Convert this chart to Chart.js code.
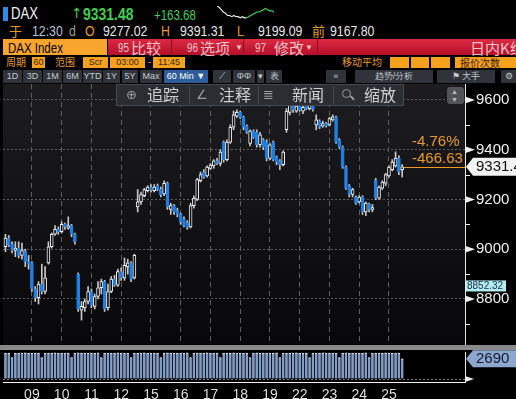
<!DOCTYPE html>
<html><head><meta charset="utf-8">
<script src="https://cdn.jsdelivr.net/npm/chart.js@4"></script>
<style>
html,body{margin:0;padding:0;background:#000;width:516px;height:399px;overflow:hidden;}
body{position:relative;font-family:"Liberation Sans",Arial,sans-serif;}
.a{position:absolute;white-space:nowrap;line-height:1;}
.n{transform:scaleX(0.82);transform-origin:0 0;}
.cjk{font-family:"Noto Sans CJK SC","Liberation Sans",sans-serif;}
.or{color:#e99b2b;}
.wt{color:#e6e6e6;}
.box{position:absolute;background:#f5a11d;color:#3a2200;font-size:9px;line-height:11px;height:11px;text-align:center;}
.btn{position:absolute;top:70px;height:13px;background:#30343a;color:#c3c7ce;font-size:9px;line-height:13px;text-align:center;font-family:"Liberation Sans",Arial,sans-serif;}
canvas{position:absolute;left:0;}
</style></head><body>

<!-- Row 1 -->
<div class="a" style="left:3px;top:7px;width:5px;height:14px;background:#2b8be6"></div>
<div class="a n" style="left:11px;top:6px;font-size:16px;color:#f2f2f2">DAX</div>
<div class="a" style="left:71px;top:6px;font-size:14px;color:#3cc84c;font-family:'DejaVu Sans'">↑</div>
<div class="a n" style="left:83px;top:6px;font-size:17px;font-weight:bold;color:#3fd24f">9331.48</div>
<div class="a n" style="left:154px;top:8px;font-size:14px;color:#3fd24f">+163.68</div>
<canvas id="spark" width="57" height="14" style="left:217px;top:5px;width:57px;height:14px"></canvas>

<!-- Row 2 -->
<div class="a cjk or" style="left:9px;top:24px;font-size:13px">于</div>
<div class="a n" style="left:32px;top:23px;font-size:15px;color:#b4c2d9">12:30</div>
<div class="a n" style="left:69px;top:23px;font-size:15px;color:#9a9a9a">d</div>
<div class="a n or" style="left:85px;top:23px;font-size:15px">O</div>
<div class="a n wt" style="left:103px;top:23px;font-size:15px">9277.02</div>
<div class="a n or" style="left:161px;top:23px;font-size:15px">H</div>
<div class="a n wt" style="left:180px;top:23px;font-size:15px">9391.31</div>
<div class="a n or" style="left:237px;top:23px;font-size:15px">L</div>
<div class="a n wt" style="left:258px;top:23px;font-size:15px">9199.09</div>
<div class="a cjk or" style="left:312px;top:24px;font-size:13px">前</div>
<div class="a n wt" style="left:330px;top:23px;font-size:15px">9167.80</div>

<!-- Row 3 -->
<div class="a" style="left:3px;top:39px;width:104px;height:16px;background:#f7a52c"></div>
<div class="a n" style="left:8px;top:41px;font-size:14px;color:#000">DAX Index</div>
<div class="a" style="left:108px;top:39px;width:408px;height:16px;background:linear-gradient(#dc2a42,#b40f29)"></div>
<div class="a" style="left:171px;top:39px;width:1px;height:16px;background:#8e0c1f"></div>
<div class="a" style="left:243px;top:39px;width:1px;height:16px;background:#8e0c1f"></div>
<div class="a" style="left:317px;top:39px;width:1px;height:16px;background:#8e0c1f"></div>
<div class="a n" style="left:118px;top:42px;font-size:12px;color:#f5c3ca">95</div>
<div class="a cjk" style="left:131px;top:40px;font-size:15px;color:#f5c3ca">比较</div>
<div class="a n" style="left:187px;top:42px;font-size:12px;color:#f5c3ca">96</div>
<div class="a cjk" style="left:200px;top:40px;font-size:15px;color:#f5c3ca">选项</div>
<div class="a" style="left:235px;top:44px;font-size:8px;color:#f5c3ca">▼</div>
<div class="a n" style="left:255px;top:42px;font-size:12px;color:#f5c3ca">97</div>
<div class="a cjk" style="left:274px;top:40px;font-size:15px;color:#f5c3ca">修改</div>
<div class="a" style="left:305px;top:44px;font-size:8px;color:#f5c3ca">▼</div>
<div class="a cjk" style="left:470px;top:40px;font-size:15px;color:#f5c3ca">日内K线图</div>

<!-- Row 4 -->
<div class="a cjk or" style="left:6px;top:57px;font-size:10px">周期</div>
<div class="box" style="left:32px;top:57px;width:13px">60</div>
<div class="a cjk or" style="left:55px;top:57px;font-size:10px">范围</div>
<div class="box" style="left:83px;top:57px;width:25px">Scr</div>
<div class="box" style="left:110px;top:57px;width:35px">03:00</div>
<div class="a or" style="left:148px;top:57px;font-size:10px">-</div>
<div class="box" style="left:153px;top:57px;width:32px">11:45</div>
<div class="a cjk or" style="left:342px;top:57px;font-size:10px">移动平均</div>
<div class="box" style="left:390px;top:57px;width:19px"></div>
<div class="box" style="left:411px;top:57px;width:18px"></div>
<div class="box" style="left:431px;top:57px;width:19px"></div>
<div class="box cjk" style="left:455px;top:57px;width:61px;text-align:left;padding-left:5px;box-sizing:border-box;font-size:10px">报价次数</div>

<!-- Row 5 buttons -->
<div id="btns"></div>

<!-- main chart -->
<canvas id="main" width="516" height="262" style="top:84px;width:516px;height:262px"></canvas>

<!-- toolbar overlay -->
<div class="a" style="left:116px;top:84px;width:288px;height:22px;background:#2a2d31;border:1px solid #45484e;box-sizing:border-box"></div>
<div class="a" style="left:189px;top:86px;width:1px;height:18px;background:#44474c"></div>
<div class="a" style="left:258px;top:86px;width:1px;height:18px;background:#44474c"></div>
<div class="a" style="left:333px;top:86px;width:1px;height:18px;background:#44474c"></div>
<div class="a" style="left:126px;top:88px;font-size:13px;color:#9a9da2;font-family:'DejaVu Sans'">⊕</div>
<div class="a cjk" style="left:147px;top:86px;font-size:16px;color:#d0d0d0">追踪</div>
<div class="a" style="left:196px;top:88px;font-size:13px;color:#9a9da2;font-family:'DejaVu Sans'">∠</div>
<div class="a cjk" style="left:219px;top:86px;font-size:16px;color:#d0d0d0">注释</div>
<div class="a" style="left:263px;top:88px;font-size:13px;color:#9a9da2;font-family:'DejaVu Sans'">≣</div>
<div class="a cjk" style="left:292px;top:86px;font-size:16px;color:#d0d0d0">新闻</div>
<div class="a" style="left:342px;top:89px;width:7px;height:7px;border:1.5px solid #9a9da2;border-radius:50%"></div>
<div class="a" style="left:350px;top:97px;width:5px;height:1.5px;background:#9a9da2;transform:rotate(45deg)"></div>
<div class="a cjk" style="left:364px;top:86px;font-size:16px;color:#d0d0d0">缩放</div>
<div class="a" style="left:447px;top:87px;width:17px;height:17px;background:#505358;border-radius:3px"></div>
<div class="a" style="left:451px;top:88px;font-size:7px;color:#b8b8b8">▲</div>
<div class="a" style="left:451px;top:96px;font-size:7px;color:#b8b8b8">▼</div>

<!-- separator -->
<div class="a" style="left:0;top:345px;width:516px;height:5px;background:#8a8a8a;z-index:3"></div>

<!-- volume chart -->
<canvas id="vol" width="516" height="60" style="top:350px;width:516px;height:60px"></canvas>

<script>
// ---------------- data ----------------
const dayLabels = ['09','10','11','12','15','16','17','18','19','22','23','24','25'];

const opens = [
  9010,9045,9020,8995,
  9005,8975,8990,8950,8945,8840,8805,8860,8830,
  8945,9010,9060,9080,9070,9100,9085,9095,9060,
  8900,8755,8765,8790,8830,8770,8810,8845,8870,
  8765,8830,8880,8855,8910,8885,8930,8945,8885,
  9170,9190,9215,9235,9250,9235,9255,9242,9222,
  9265,9160,9175,9155,9140,9120,9105,9090,9175,
  9200,9275,9310,9295,9325,9335,9355,9345,9430,
  9360,9430,9490,9535,9550,9530,9495,9425,9475,
  9470,9420,9440,9430,9365,9430,9370,9355,9340,
  9480,9550,9580,9555,9575,9555,9575,9565,9575,
  9500,9515,9495,9505,9500,9520,9530,9440,9410,
  9330,9255,9220,9210,9190,9210,9150,9180,9160,
  9277.02,9205,9245,9265,9295,9320,9335,9365,9320
];
const highs = [
  9060,9055,9030,9030,
  9030,9025,9000,8975,8950,8850,8870,8940,8930,
  9030,9065,9095,9090,9110,9105,9130,9100,9065,
  8905,8790,8800,8850,8840,8820,8870,8880,8875,
  8860,8890,8895,8920,8925,8965,8960,8950,8980,
  9240,9230,9245,9255,9260,9260,9262,9250,9275,
  9270,9185,9180,9165,9145,9130,9115,9185,9215,
  9285,9310,9320,9335,9345,9360,9365,9400,9435,
  9440,9500,9555,9560,9555,9535,9500,9480,9480,
  9480,9470,9445,9440,9425,9435,9375,9360,9395,
  9565,9600,9590,9585,9590,9575,9580,9590,9580,
  9540,9520,9515,9510,9530,9540,9535,9445,9415,
  9335,9260,9245,9215,9215,9215,9190,9185,9180,
  9285,9255,9275,9305,9335,9360,9391.31,9375,9340
];
const lows = [
  8990,9010,8985,8970,
  8965,8960,8930,8920,8830,8790,8780,8820,8820,
  8940,9005,9055,9060,9065,9080,9080,9050,9020,
  8750,8715,8750,8780,8765,8760,8800,8820,8750,
  8755,8825,8850,8850,8875,8875,8900,8870,8880,
  9150,9180,9210,9230,9230,9230,9235,9210,9215,
  9160,9140,9140,9130,9100,9090,9080,9085,9165,
  9195,9270,9285,9290,9320,9325,9340,9335,9350,
  9355,9425,9480,9530,9525,9480,9465,9415,9445,
  9410,9410,9400,9355,9360,9355,9340,9320,9335,
  9470,9540,9550,9550,9555,9545,9560,9560,9555,
  9480,9485,9490,9490,9495,9515,9425,9405,9325,
  9240,9210,9210,9180,9185,9140,9135,9150,9150,
  9199.09,9200,9240,9255,9290,9315,9330,9300,9290
];
const closes = [
  9045,9015,8995,9005,
  8975,8995,8950,8940,8840,8805,8860,8830,8885,
  9010,9060,9080,9070,9100,9090,9095,9060,9030,
  8760,8770,8790,8830,8775,8810,8845,8870,8760,
  8830,8880,8855,8910,8885,8935,8945,8880,8975,
  9190,9220,9240,9250,9238,9250,9240,9218,9265,
  9170,9175,9150,9140,9110,9095,9088,9175,9205,
  9280,9300,9290,9330,9338,9355,9345,9390,9360,
  9430,9490,9540,9550,9530,9490,9470,9475,9450,
  9420,9460,9410,9365,9420,9360,9350,9338,9390,
  9555,9580,9560,9575,9560,9570,9565,9578,9562,
  9520,9490,9505,9495,9525,9532,9430,9410,9330,
  9245,9220,9240,9185,9210,9150,9185,9160,9167.80,
  9205,9250,9270,9300,9330,9350,9365,9310,9331.48
];
const volumes = [
  3460,3470,2860,3450,
  3470,3460,3480,3450,3470,3460,3470,2850,3460,
  3470,3450,3480,3460,3470,3450,3470,2870,3460,
  3480,3460,3470,3450,3470,3460,3480,2850,3470,
  3460,3470,3450,3480,3460,3470,3450,2860,3470,
  3470,3460,3480,3450,3470,3460,3470,2850,3460,
  3480,3460,3470,3450,3470,3460,3480,2870,3470,
  3460,3470,3450,3480,3460,3470,3450,2860,3470,
  3470,3460,3480,3450,3470,3460,3470,2850,3460,
  3480,3460,3470,3450,3470,3460,3480,2860,3470,
  3460,3470,3450,3480,3460,3470,3450,2870,3470,
  3470,3460,3480,3450,3470,3460,3470,2850,3460,
  3480,3460,3470,3450,3470,3460,3480,2860,3470,
  3460,3470,3450,3480,3460,3470,3450,3460,2690
];
const yTickValues = [8700,8800,8900,9000,9100,9200,9300,9400,9500,9600];
const majorTicks = [8800,9000,9200,9400,9600];
const lastPrice = 9331.48;
const markPrice = 8852.32;
const changePct = '-4.76%';
const changeAbs = '-466.63';
const lastVolume = 2690;
const sparkWhite = [9400,9375,9325,9275,9250,9200,9200,9175,9200,9175,9175,9150,9175,9150,9150];
const sparkGreen = [9150,9175,9200,9225,9250,9275,9275,9300,9325,9350,9325,9300,9300,9275];
const buttons = [
  [3,19,'1D'],[23,19,'3D'],[43,19,'1M'],[63,19,'6M'],[83,19,'YTD'],[103,17,'1Y'],[122,16,'5Y'],[140,22,'Max'],
  [213,18,'⟋'],[233,22,'ΦΦ'],[257,7,'▾'],[266,16,'表'],[326,20,'«'],[355,78,'趋势/分析'],[437,58,'⚑ 大手'],[501,15,'⚙']
];
const firstDayBars = 4, barsPerDay = 9;

// ---------------- buttons ----------------
const bw = document.getElementById('btns');
buttons.forEach(([l,w,t]) => {
  const d = document.createElement('div');
  d.className = 'btn' + (/[\u4e00-\u9fff]/.test(t) ? ' cjk' : '');
  d.style.left = l + 'px'; d.style.width = w + 'px'; d.textContent = t;
  bw.appendChild(d);
});
const blue = document.createElement('div');
blue.className = 'btn'; blue.style.left = '164px'; blue.style.width = '44px';
blue.style.background = '#2d5d9c'; blue.style.color = '#fff'; blue.textContent = '60 Min ▼';
bw.appendChild(blue);

// ---------------- derived ----------------
const N = closes.length;
const isUp = i => closes[i] >= opens[i];
const bodies = opens.map((o,i) => ({x:i, y:[Math.min(o,closes[i]), Math.max(o,closes[i])]}));
const wicks = lows.map((l,i) => ({x:i, y:[l, highs[i]]}));
const volData = volumes.map((v,i) => ({x:i, y:v}));
const boundaries = dayLabels.map((_,k) => firstDayBars - 0.5 + k*barsPerDay);
const centers = dayLabels.map((_,k) => firstDayBars + 4 + k*barsPerDay);
const XMIN = -0.74, XMAX = 139.0;
const BLUE = '#1f7fe2';
const noPad = ax => { ax.paddingTop = 0; ax.paddingBottom = 0; };

// ---------------- main chart ----------------
const mainDeco = {
  id:'mainDeco',
  beforeDraw(chart){
    const {ctx, chartArea:a} = chart;
    const g = ctx.createLinearGradient(0,a.top,0,a.bottom);
    g.addColorStop(0,'#1d1d21'); g.addColorStop(1,'#08080a');
    ctx.save(); ctx.fillStyle=g; ctx.fillRect(a.left,a.top,a.right-a.left,a.bottom-a.top); ctx.restore();
  },
  afterDraw(chart){
    const {ctx, chartArea:a, scales:{x,y}} = chart;
    ctx.save();
    yTickValues.forEach(v=>{
      const py = y.getPixelForValue(v);
      ctx.fillStyle = '#f0f0f0'; ctx.strokeStyle = '#f0f0f0'; ctx.lineWidth = 1;
      if (majorTicks.includes(v)) {
        ctx.beginPath(); ctx.moveTo(a.right, py-3.5); ctx.lineTo(a.right, py+3.5); ctx.lineTo(a.right+10, py); ctx.closePath(); ctx.fill();
      } else {
        ctx.beginPath(); ctx.moveTo(a.right, Math.round(py)+0.5); ctx.lineTo(a.right+5, Math.round(py)+0.5); ctx.stroke();
      }
    });
    const py = y.getPixelForValue(lastPrice);
    const px0 = x.getPixelForValue(N-1) + 1.5;
    ctx.strokeStyle = '#f09a1e'; ctx.lineWidth = 1;
    ctx.beginPath(); ctx.moveTo(px0, Math.round(py)+0.5); ctx.lineTo(a.right, Math.round(py)+0.5); ctx.stroke();
    ctx.fillStyle = '#eb9a25'; ctx.font = '15px "Liberation Sans", Arial'; ctx.textBaseline = 'middle'; ctx.textAlign='left';
    ctx.fillText(changePct, a.right-53, py-25);
    ctx.fillText(changeAbs, a.right-53, py-8);
    ctx.fillStyle = '#f2f2f2';
    ctx.beginPath(); ctx.moveTo(a.right+1, py); ctx.lineTo(a.right+8, py-9); ctx.lineTo(chart.width, py-9);
    ctx.lineTo(chart.width, py+9); ctx.lineTo(a.right+8, py+9); ctx.closePath(); ctx.fill();
    ctx.fillStyle = '#111'; ctx.font = '15px "Liberation Sans", Arial';
    ctx.fillText(lastPrice.toFixed(2), a.right+11, py+0.5);
    const my = y.getPixelForValue(markPrice);
    ctx.fillStyle = '#b2eef2'; ctx.fillRect(a.right+1, my-5.5, 40, 11);
    ctx.fillStyle = '#1c2c44'; ctx.font = '10px "Liberation Sans", Arial';
    ctx.fillText(markPrice.toFixed(2), a.right+2, my+0.5);
    ctx.restore();
  }
};

new Chart(document.getElementById('main'), {
  type:'bar',
  data:{datasets:[
    {data:bodies, grouped:false, order:1, barThickness:3, borderSkipped:false, borderWidth:1,
     backgroundColor: c => isUp(c.dataIndex) ? '#0e0e11' : BLUE,
     borderColor: c => isUp(c.dataIndex) ? '#f2f2f2' : BLUE},
    {data:wicks, grouped:false, order:2, barThickness:1, borderWidth:0, backgroundColor:'#c8c8c8'}
  ]},
  options:{
    responsive:false, animation:false, events:[],
    layout:{padding:{left:3,right:0,top:0,bottom:0}},
    plugins:{legend:{display:false}, tooltip:{enabled:false}},
    scales:{
      x:{type:'linear', min:XMIN, max:XMAX, offset:false,
         afterBuildTicks: ax => { ax.ticks = boundaries.map(v=>({value:v})); },
         afterFit: ax => { ax.height = 0; ax.paddingLeft = 0; ax.paddingRight = 0; },
         ticks:{display:false}, grid:{color:'#5e5e5e', drawTicks:false}, border:{display:false, dash:[5,4]}},
      y:{type:'linear', position:'right', min:8611, max:9664,
         afterBuildTicks: ax => { ax.ticks = yTickValues.map(v=>({value:v})); },
         afterFit: ax => { ax.width = 51; noPad(ax); },
         ticks:{autoSkip:false, padding:11, color:'#f0f0f0', font:{size:15, family:'"Liberation Sans", Arial'},
                callback: v => majorTicks.includes(v) ? String(v) : ''},
         grid:{drawTicks:false, color: c => (c.tick && majorTicks.includes(c.tick.value)) ? '#5e5e5e' : 'rgba(0,0,0,0)'},
         border:{display:true, color:'#e8e8e8', width:1, dash:[2,2]}}
    }
  },
  plugins:[mainDeco]
});

// ---------------- volume chart ----------------
const volDeco = {
  id:'volDeco',
  afterDraw(chart){
    const {ctx, chartArea:a, scales:{y}} = chart;
    ctx.save();
    const py = y.getPixelForValue(lastVolume);
    ctx.fillStyle = '#8ea7cd';
    ctx.beginPath(); ctx.moveTo(a.right+1, py); ctx.lineTo(a.right+8, py-8.5); ctx.lineTo(chart.width, py-8.5);
    ctx.lineTo(chart.width, py+8.5); ctx.lineTo(a.right+8, py+8.5); ctx.closePath(); ctx.fill();
    ctx.fillStyle = '#0e1a30'; ctx.font = '15px "Liberation Sans", Arial'; ctx.textBaseline='middle';
    ctx.fillText(String(lastVolume), a.right+11, py+0.5);
    const zy = y.getPixelForValue(0);
    ctx.fillStyle = '#f0f0f0';
    ctx.beginPath(); ctx.moveTo(a.right, zy-3); ctx.lineTo(a.right, zy+3); ctx.lineTo(a.right+9, zy); ctx.closePath(); ctx.fill();
    ctx.restore();
  }
};

new Chart(document.getElementById('vol'), {
  type:'bar',
  data:{datasets:[
    {data:volData, barThickness:2.6, backgroundColor:'#839cc4', borderColor:'#f4f4f4',
     borderWidth:{top:1,left:0,right:0,bottom:0}, borderSkipped:false}
  ]},
  options:{
    responsive:false, animation:false, events:[],
    layout:{padding:{left:3,right:0,top:2,bottom:0}},
    plugins:{legend:{display:false}, tooltip:{enabled:false}},
    scales:{
      x:{type:'linear', min:XMIN, max:XMAX, offset:false,
         afterBuildTicks: ax => { ax.ticks = centers.map(v=>({value:v})); },
         afterFit: ax => { ax.height = 28; ax.paddingLeft = 0; ax.paddingRight = 0; },
         ticks:{autoSkip:false, maxRotation:0, padding:5, color:'#dcdcdc', font:{size:14, family:'"Liberation Sans", Arial'},
                callback: v => { const k = centers.indexOf(v); return k >= 0 ? dayLabels[k] : ''; }},
         grid:{display:false, drawTicks:false},
         border:{display:true, color:'#f0f0f0', width:1}},
      y:{type:'linear', position:'right', min:-400, max:3600,
         afterBuildTicks: ax => { ax.ticks = [{value:0}]; },
         afterFit: ax => { ax.width = 51; noPad(ax); },
         ticks:{display:false},
         grid:{drawTicks:false, color:'#777'},
         border:{display:true, color:'#e8e8e8', width:1, dash:[2,2]}}
    }
  },
  plugins:[volDeco]
});

// ---------------- sparkline ----------------
const sparkLabels = sparkWhite.concat(sparkGreen.slice(1)).map((_,i)=>i);
new Chart(document.getElementById('spark'), {
  type:'line',
  data:{labels:sparkLabels, datasets:[
    {data:sparkWhite, borderColor:'#e8e8e8', borderWidth:1.2, pointRadius:0, tension:0},
    {data:Array(sparkWhite.length-1).fill(null).concat(sparkGreen), borderColor:'#3fd24f', borderWidth:1.2, pointRadius:0, tension:0}
  ]},
  options:{responsive:false, animation:false, events:[],
    layout:{padding:0},
    plugins:{legend:{display:false}, tooltip:{enabled:false}},
    scales:{x:{display:false}, y:{display:false, min:9125, max:9425}}}
});
</script>
</body></html>
